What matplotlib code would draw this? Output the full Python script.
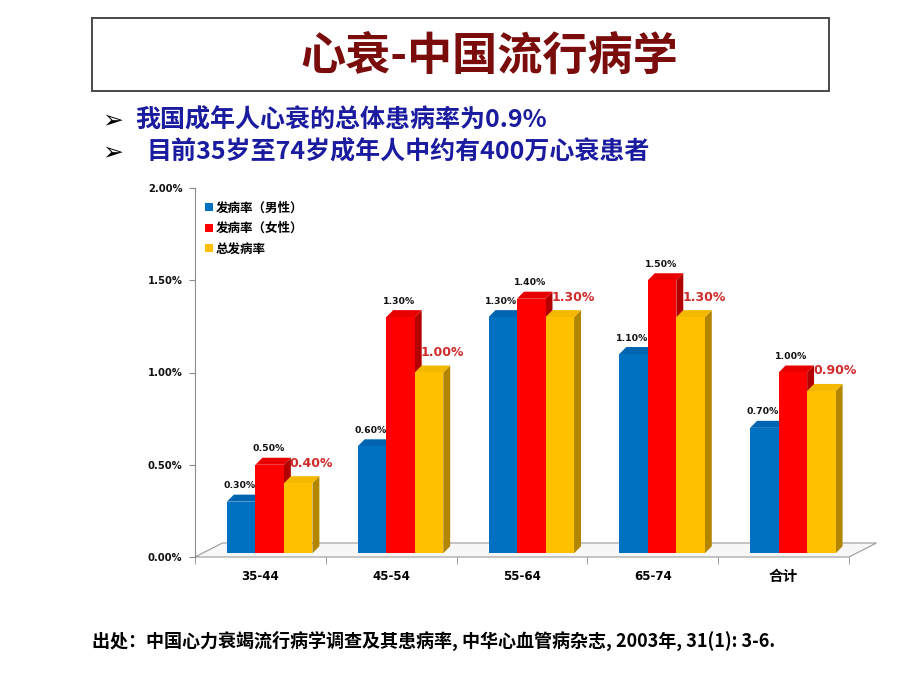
import matplotlib
matplotlib.use('Agg')
import matplotlib.pyplot as plt
from matplotlib.patches import Polygon, Rectangle, Patch
from matplotlib.ticker import FuncFormatter

plt.rcParams['font.family'] = ['Noto Sans CJK SC', 'DejaVu Sans']

# data (percent)
groups = ['35-44', '45-54', '55-64', '65-74', '合计']
male = [0.30, 0.60, 1.30, 1.10, 0.70]
female = [0.50, 1.30, 1.40, 1.50, 1.00]
total = [0.40, 1.00, 1.30, 1.30, 0.90]
series_names = ['发病率（男性）', '发病率（女性）', '总发病率']

front_cols = ['#0070C0', '#FF0000', '#FFC000']
side_cols = ['#004F8C', '#B30000', '#B38600']
top_cols = ['#0064B0', '#E80000', '#F5B800']

fig = plt.figure(figsize=(9.2, 6.9), dpi=100)

# title box
fig.patches.append(Rectangle((92/920, 1-91/690), 737/920, 73/690, fill=False,
                             edgecolor='#474747', lw=1.4, transform=fig.transFigure))
fig.text(489/920, 1-57/690, '心衰-中国流行病学', ha='center', va='center',
         fontsize=32.5, color='#7B0C0C', weight='bold')

# bullets
for yy, txt, xx in [(120, '我国成年人心衰的总体患病率为0.9%', 135),
                    (152, '目前35岁至74岁成年人中约有400万心衰患者', 147)]:
    fig.text(102/920, 1-yy/690, '➢', family='DejaVu Sans', fontsize=18,
             va='center', ha='left', color='black', weight='bold')
    fig.text(xx/920, 1-yy/690, txt, fontsize=18, color='#1B1BA0',
             weight='bold', va='center', ha='left')

fig.text(92/920, 1-641/690, '出处：中国心力衰竭流行病学调查及其患病率, 中华心血管病杂志, 2003年, 31(1): 3-6.',
         fontsize=13, weight='bold', va='center', ha='left', color='black')

ax = fig.add_axes([195/920, 1-557/690, 654/920, 369/690])
ax.set_xlim(-0.5, 4.5)
ax.set_ylim(0, 2.0)

# floor
dx_floor, dy_floor = 0.21, 0.076
floor = Polygon([(-0.5, 0), (4.5, 0), (4.5+dx_floor, dy_floor), (-0.5+dx_floor, dy_floor)],
                closed=True, facecolor='#f7f7f7', edgecolor='#9a9a9a', lw=0.8,
                clip_on=False, zorder=1)
ax.add_patch(floor)

offsets = [-0.147, 0.071, 0.289]
w = 0.218
base = 0.02
dx, dy = 0.053, 0.038
z = 3
for i in range(len(groups)):
    for k, vals in enumerate([male, female, total]):
        v = vals[i]
        x0 = i + offsets[k] - w/2
        x1 = x0 + w
        side = Polygon([(x1, base), (x1, v), (x1+dx, v+dy), (x1+dx, base+dy)],
                       closed=True, facecolor=side_cols[k], edgecolor='none', zorder=z)
        top = Polygon([(x0, v), (x1, v), (x1+dx, v+dy), (x0+dx, v+dy)],
                      closed=True, facecolor=top_cols[k], edgecolor='none', zorder=z)
        ax.add_patch(side)
        ax.add_patch(top)
        ax.bar(i + offsets[k], v - base, width=w, bottom=base, color=front_cols[k],
               zorder=z+1, linewidth=0)
        z += 2
        if k < 2:
            ax.annotate(f'{v:.2f}%', (i + offsets[k], v), xytext=(-1, 11.5),
                        textcoords='offset points', ha='center', va='center',
                        fontsize=6.7, weight='bold', family='DejaVu Sans',
                        color='#111111', zorder=50)
        else:
            ax.annotate(f'{v:.2f}%', (i + offsets[k], v), xytext=(9.5, 14.5),
                        textcoords='offset points', ha='center', va='center',
                        fontsize=9, weight='bold', family='DejaVu Sans',
                        color='#D02A2A', zorder=50)

for s in ['top', 'right']:
    ax.spines[s].set_visible(False)
ax.spines['left'].set_color('#8c8c8c')
ax.spines['bottom'].set_visible(False)

ax.set_yticks([0, 0.5, 1.0, 1.5, 2.0])
ax.yaxis.set_major_formatter(FuncFormatter(lambda v, p: f'{v:.2f}%'))
ax.tick_params(axis='y', colors='#8c8c8c', length=4, labelcolor='#111111',
               labelsize=7.2, pad=5)
for t in ax.get_yticklabels():
    t.set_fontweight('bold')
    t.set_family('DejaVu Sans')

ax.set_xticks(range(len(groups)))
ax.set_xticklabels(groups)
ax.set_xticks([i - 0.5 for i in range(len(groups) + 1)], minor=True)
ax.tick_params(axis='x', which='major', length=0, pad=9, labelsize=8.5)
ax.tick_params(axis='x', which='minor', length=5, color='#8c8c8c')
for t in ax.get_xticklabels():
    t.set_fontweight('bold')
    t.set_family(['DejaVu Sans', 'Noto Sans CJK SC'])
ax.get_xticklabels()[-1].set_fontsize(10.5)

handles = [Patch(facecolor=c, edgecolor='none') for c in front_cols]
leg = ax.legend(handles, series_names, loc='upper left', bbox_to_anchor=(0.016, 0.963),
                frameon=False, fontsize=9, handlelength=0.6, handleheight=0.6,
                handletextpad=0.25, labelspacing=0.6, borderpad=0, borderaxespad=0)
for t in leg.get_texts():
    t.set_fontweight('bold')

fig.savefig('out.png', dpi=100, facecolor='white')
